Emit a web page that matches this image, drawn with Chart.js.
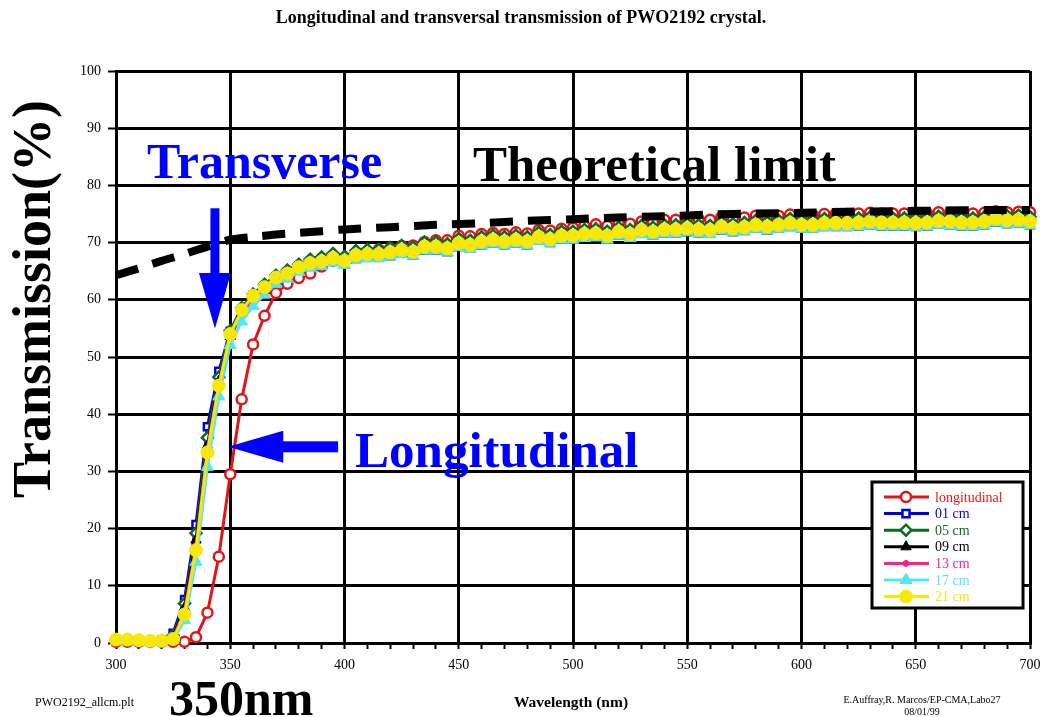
<!DOCTYPE html>
<html>
<head>
<meta charset="utf-8">
<title>PWO2192 transmission</title>
<script src="https://cdn.jsdelivr.net/npm/chart.js@4.4.0/dist/chart.umd.min.js"></script>
<style>
  html, body { margin: 0; padding: 0; background: #fff; }
  canvas { display: block; }
</style>
</head>
<body>
<canvas id="transmissionChart" width="1042" height="717"></canvas>
<script>
// wavelength grid of the spectrophotometer scans (nm)
const wavelengths = [
  300, 305, 310, 315, 320, 325, 330, 335, 340, 345,
  350, 355, 360, 365, 370, 375, 380, 385, 390, 395,
  400, 405, 410, 415, 420, 425, 430, 435, 440, 445,
  450, 455, 460, 465, 470, 475, 480, 485, 490, 495,
  500, 505, 510, 515, 520, 525, 530, 535, 540, 545,
  550, 555, 560, 565, 570, 575, 580, 585, 590, 595,
  600, 605, 610, 615, 620, 625, 630, 635, 640, 645,
  650, 655, 660, 665, 670, 675, 680, 685, 690, 695,
  700
];

// transmission (%) along the crystal axis
const longitudinal = [
  0.2, 0.2, 0.2, 0.2, 0.2, 0.2, 0.2, 1.0, 5.3, 15.1,
  29.5, 42.6, 52.2, 57.2, 61.2, 62.8, 63.8, 64.6, 65.8, 66.8,
  67.1, 67.9, 68.4, 68.8, 69.0, 69.4, 69.5, 70.1, 70.4, 70.4,
  71.2, 71.1, 71.5, 71.7, 71.5, 71.8, 71.6, 72.2, 72.1, 72.4,
  72.6, 72.9, 73.2, 72.9, 73.4, 73.3, 73.7, 73.6, 74.0, 74.0,
  74.2, 74.1, 74.0, 74.5, 74.3, 74.4, 74.7, 74.5, 74.7, 74.9,
  74.7, 74.8, 75.0, 75.0, 75.0, 75.1, 75.2, 75.1, 75.1, 75.1,
  75.0, 75.1, 75.3, 75.2, 75.1, 75.1, 75.2, 75.5, 75.3, 75.4,
  75.3
];

// transverse transmission (%) at different positions along the crystal
const cm01 = [
  0.6, 0.5, 0.4, 0.4, 0.5, 1.7, 7.6, 20.7, 37.8, 47.5,
  54.5, 58.3, 60.8, 62.4, 64.0, 64.9, 65.9, 66.7, 67.0, 67.7,
  67.2, 68.1, 68.4, 68.4, 68.8, 69.1, 68.9, 69.7, 69.8, 69.5,
  70.3, 70.1, 70.7, 70.9, 70.7, 71.0, 70.7, 71.4, 71.1, 71.7,
  71.7, 72.0, 72.1, 71.7, 72.4, 72.0, 72.7, 72.4, 72.8, 72.8,
  73.0, 72.8, 72.7, 73.3, 73.0, 73.2, 73.6, 73.3, 73.6, 73.9,
  73.6, 73.6, 73.9, 73.9, 73.9, 74.0, 74.2, 74.0, 74.0, 74.0,
  73.9, 74.0, 74.3, 74.2, 74.0, 74.0, 74.2, 74.6, 74.4, 74.5,
  74.2
];

const cm05 = [
  0.5, 0.5, 0.4, 0.3, 0.4, 1.3, 6.9, 19.2, 35.9, 46.5,
  54.6, 58.6, 61.0, 62.7, 64.3, 65.2, 66.2, 67.1, 67.5, 68.1,
  67.6, 68.6, 68.8, 68.8, 69.1, 69.5, 69.2, 70.1, 70.1, 69.8,
  70.7, 70.4, 71.0, 71.3, 71.0, 71.3, 71.0, 71.8, 71.4, 72.0,
  72.0, 72.3, 72.4, 72.0, 72.7, 72.3, 73.0, 72.7, 73.1, 73.1,
  73.3, 73.1, 73.0, 73.6, 73.3, 73.5, 73.9, 73.6, 73.9, 74.2,
  73.9, 73.9, 74.2, 74.2, 74.2, 74.3, 74.5, 74.3, 74.3, 74.3,
  74.2, 74.3, 74.6, 74.5, 74.3, 74.3, 74.5, 75.0, 74.7, 74.8,
  74.5
];

const cm09 = [
  0.4, 0.4, 0.3, 0.3, 0.3, 1.0, 6.2, 18.0, 34.5, 45.8,
  53.6, 57.6, 60.1, 61.6, 63.2, 63.9, 65.0, 65.7, 66.0, 66.6,
  66.1, 67.0, 67.2, 67.2, 67.5, 67.9, 67.6, 68.5, 68.5, 68.2,
  69.1, 68.8, 69.4, 69.7, 69.4, 69.7, 69.4, 70.2, 69.8, 70.4,
  70.4, 70.7, 70.8, 70.4, 71.1, 70.7, 71.4, 71.1, 71.5, 71.5,
  71.7, 71.5, 71.4, 72.0, 71.7, 71.9, 72.3, 72.0, 72.3, 72.6,
  72.3, 72.3, 72.6, 72.6, 72.6, 72.7, 72.9, 72.7, 72.7, 72.7,
  72.6, 72.7, 73.0, 72.9, 72.7, 72.7, 72.9, 73.4, 73.1, 73.2,
  72.9
];

const cm13 = [
  0.4, 0.4, 0.3, 0.3, 0.3, 0.9, 5.6, 17.0, 34.0, 45.3,
  53.6, 57.8, 60.3, 61.8, 63.4, 64.1, 65.2, 65.9, 66.2, 66.8,
  66.3, 67.3, 67.5, 67.5, 67.8, 68.2, 67.9, 68.8, 68.8, 68.5,
  69.4, 69.1, 69.7, 70.0, 69.7, 70.0, 69.7, 70.5, 70.1, 70.7,
  70.7, 71.0, 71.1, 70.7, 71.4, 71.0, 71.7, 71.4, 71.8, 71.8,
  72.0, 71.8, 71.7, 72.3, 72.0, 72.2, 72.6, 72.3, 72.6, 72.9,
  72.6, 72.6, 72.9, 72.9, 72.9, 73.0, 73.2, 73.0, 73.0, 73.0,
  72.9, 73.0, 73.3, 73.2, 73.0, 73.0, 73.2, 73.7, 73.4, 73.5,
  73.2
];

const cm17 = [
  0.3, 0.3, 0.2, 0.2, 0.2, 0.5, 4.0, 14.2, 30.8, 43.1,
  52.1, 56.2, 58.9, 60.9, 62.8, 63.7, 64.9, 65.6, 65.9, 66.5,
  66.1, 67.1, 67.3, 67.3, 67.6, 68.0, 67.7, 68.6, 68.6, 68.3,
  69.2, 68.9, 69.5, 69.8, 69.5, 69.8, 69.5, 70.3, 69.9, 70.5,
  70.5, 70.8, 70.9, 70.5, 71.2, 70.8, 71.5, 71.2, 71.6, 71.6,
  71.8, 71.6, 71.5, 72.1, 71.8, 72.0, 72.4, 72.1, 72.4, 72.7,
  72.4, 72.4, 72.7, 72.7, 72.7, 72.8, 73.0, 72.8, 72.8, 72.8,
  72.7, 72.8, 73.1, 73.0, 72.8, 72.8, 73.0, 73.5, 73.2, 73.3,
  73.0
];

const cm21 = [
  0.6, 0.6, 0.5, 0.4, 0.4, 0.7, 5.0, 16.2, 33.3, 45.0,
  54.0, 58.2, 60.7, 62.2, 63.9, 64.6, 65.7, 66.4, 66.7, 67.3,
  66.8, 67.8, 68.0, 68.0, 68.3, 68.7, 68.4, 69.3, 69.3, 69.0,
  69.9, 69.6, 70.2, 70.5, 70.2, 70.5, 70.2, 71.0, 70.6, 71.2,
  71.2, 71.5, 71.6, 71.2, 71.9, 71.5, 72.2, 71.9, 72.3, 72.3,
  72.5, 72.3, 72.2, 72.8, 72.5, 72.7, 73.1, 72.8, 73.1, 73.4,
  73.1, 73.1, 73.4, 73.4, 73.4, 73.5, 73.7, 73.5, 73.5, 73.5,
  73.4, 73.5, 73.8, 73.7, 73.5, 73.5, 73.7, 74.2, 73.9, 74.0,
  73.7
];

// theoretical transmission limit (Fresnel losses only)
const limitNm  = [300, 310, 320, 330, 340, 350, 360, 370, 380, 390, 400, 420, 440, 460, 480, 500, 520, 540, 560, 580, 600, 620, 640, 660, 680, 700];
const limitPct = [64.3, 65.5, 66.8, 68.0, 69.3, 70.5, 71.0, 71.4, 71.7, 72.0, 72.3, 72.7, 73.1, 73.4, 73.8, 74.1, 74.4, 74.6, 74.9, 75.1, 75.2, 75.4, 75.5, 75.6, 75.7, 75.7];

const xTicks = [300, 350, 400, 450, 500, 550, 600, 650, 700];

const serif = '"Liberation Serif", "DejaVu Serif", serif';

function toPoints(xs, ys) {
  return ys.map((y, i) => ({ x: xs[i], y: y }));
}

function series(label, values, color, pointStyle, radius, fill, order) {
  return {
    label: label,
    data: toPoints(wavelengths, values),
    borderColor: color,
    borderWidth: 3,
    pointStyle: pointStyle,
    pointRadius: radius,
    pointBorderWidth: fill ? 1 : 2.5,
    pointBorderColor: color,
    pointBackgroundColor: fill ? color : '#fff',
    tension: 0,
    clip: false,
    order: order
  };
}

const datasets = [
  series('longitudinal', longitudinal, '#e0161b', 'circle', 5, false, 7),
  series('01 cm', cm01, '#0000d8', 'rect', 5, false, 6),
  series('05 cm', cm05, '#0b6b23', 'rectRot', 5.5, false, 5),
  series('09 cm', cm09, '#000000', 'triangle', 6, true, 4),
  series('13 cm', cm13, '#ff1f8f', 'circle', 3, true, 3),
  series('17 cm', cm17, '#55e6f6', 'triangle', 7, true, 2),
  series('21 cm', cm21, '#f8e80a', 'circle', 6.5, true, 1),
  {
    label: 'Theoretical limit',
    data: toPoints(limitNm, limitPct),
    borderColor: '#000',
    borderWidth: 8,
    borderDash: [23, 15],
    borderCapStyle: 'butt',
    pointRadius: 0,
    tension: 0.3,
    clip: false,
    order: 0
  }
];

// blue arrows and big captions, placed in data units
const annotationPlugin = {
  id: 'annotations',
  afterDatasetsDraw(chart) {
    const ctx = chart.ctx;
    const x = chart.scales.x;
    const y = chart.scales.y;
    ctx.save();

    // down arrow onto the transverse edge
    const ax = x.getPixelForValue(343.3);
    const aTop = y.getPixelForValue(76.0);
    const aBase = y.getPixelForValue(64.7);
    const aTip = y.getPixelForValue(55.0);
    ctx.fillStyle = '#0000ff';
    ctx.fillRect(ax - 4.5, aTop, 9, aBase - aTop + 1);
    ctx.beginPath();
    ctx.moveTo(ax - 16, aBase);
    ctx.lineTo(ax + 16, aBase);
    ctx.lineTo(ax, aTip);
    ctx.closePath();
    ctx.fill();

    // left arrow onto the longitudinal edge
    const ly = y.getPixelForValue(34.3);
    const lTip = x.getPixelForValue(349);
    const lBase = x.getPixelForValue(373.2);
    const lEnd = x.getPixelForValue(397.2);
    ctx.fillRect(lBase - 1, ly - 5.5, lEnd - lBase + 1, 11);
    ctx.beginPath();
    ctx.moveTo(lBase, ly - 16);
    ctx.lineTo(lBase, ly + 16);
    ctx.lineTo(lTip, ly);
    ctx.closePath();
    ctx.fill();

    ctx.textAlign = 'left';
    ctx.textBaseline = 'alphabetic';
    ctx.font = 'bold 50px ' + serif;
    ctx.fillStyle = '#0000ff';
    ctx.fillText('Transverse', x.getPixelForValue(313.6), y.getPixelForValue(81.3));
    ctx.font = 'bold 51px ' + serif;
    ctx.fillText('Longitudinal', x.getPixelForValue(404.6), y.getPixelForValue(30.8));
    ctx.fillStyle = '#000';
    ctx.fillText('Theoretical limit', x.getPixelForValue(456.2), y.getPixelForValue(80.8));
    ctx.restore();
  }
};

// titles, footer texts and the boxed legend
const decorPlugin = {
  id: 'decor',
  afterDraw(chart) {
    const ctx = chart.ctx;
    ctx.save();
    ctx.fillStyle = '#000';
    ctx.textAlign = 'center';
    ctx.textBaseline = 'middle';
    ctx.font = 'bold 18px ' + serif;
    ctx.fillText('Longitudinal and transversal transmission of PWO2192 crystal.', 521, 18);

    ctx.font = 'bold 15.5px ' + serif;
    ctx.fillText('Wavelength (nm)', 571, 703);

    ctx.font = '12px ' + serif;
    ctx.textAlign = 'left';
    ctx.fillText('PWO2192_allcm.plt', 35, 703);
    ctx.font = '10px ' + serif;
    ctx.textAlign = 'center';
    ctx.fillText('E.Auffray,R. Marcos/EP-CMA,Labo27', 922, 700);
    ctx.fillText('08/01/99', 922, 712);

    ctx.font = 'bold 50px ' + serif;
    ctx.textAlign = 'left';
    ctx.textBaseline = 'alphabetic';
    ctx.fillText('350nm', 169, 715);

    ctx.save();
    ctx.translate(50, 299);
    ctx.rotate(-Math.PI / 2);
    ctx.textAlign = 'center';
    ctx.font = 'bold 54px ' + serif;
    ctx.fillText('Transmission(%)', 0, 0);
    ctx.restore();

    // legend box
    const bx = 872, by = 482, bw = 151, bh = 126;
    ctx.fillStyle = '#fff';
    ctx.fillRect(bx, by, bw, bh);
    ctx.lineWidth = 3;
    ctx.strokeStyle = '#000';
    ctx.strokeRect(bx, by, bw, bh);

    ctx.font = '14px ' + serif;
    ctx.textBaseline = 'middle';
    ctx.textAlign = 'left';
    const items = chart.data.datasets.filter(d => d.pointRadius > 0);
    items.forEach((ds, i) => {
      const ry = by + 15 + i * 16.6;
      ctx.strokeStyle = ds.borderColor;
      ctx.lineWidth = 3;
      ctx.beginPath();
      ctx.moveTo(884, ry);
      ctx.lineTo(929, ry);
      ctx.stroke();
      ctx.fillStyle = ds.pointBackgroundColor;
      ctx.strokeStyle = ds.pointBorderColor;
      ctx.lineWidth = ds.pointBorderWidth;
      Chart.helpers.drawPoint(ctx, {
        pointStyle: ds.pointStyle,
        radius: ds.pointRadius,
        borderWidth: ds.pointBorderWidth,
        rotation: 0
      }, 906, ry);
      ctx.fillStyle = ds.borderColor;
      ctx.fillText(ds.label, 935, ry + 1);
    });
    ctx.restore();
  }
};

new Chart(document.getElementById('transmissionChart'), {
  type: 'line',
  data: { datasets: datasets },
  options: {
    responsive: false,
    animation: false,
    devicePixelRatio: 1,
    layout: { padding: { left: 0, right: 12, top: 71, bottom: 0 } },
    plugins: {
      legend: { display: false },
      tooltip: { enabled: false }
    },
    scales: {
      x: {
        type: 'linear',
        min: 300,
        max: 700,
        border: { display: true, color: '#000', width: 3 },
        grid: {
          color: c => xTicks.includes(c.tick.value) ? '#000' : 'rgba(0,0,0,0)',
          lineWidth: 3,
          tickColor: '#000',
          tickWidth: 2,
          tickLength: 6
        },
        ticks: {
          stepSize: 10,
          autoSkip: false,
          maxRotation: 0,
          padding: 8,
          color: '#000',
          font: { family: serif, size: 14 },
          callback: v => xTicks.includes(v) ? String(v) : ''
        },
        afterFit: s => { s.height = 74; s.paddingLeft = 0; s.paddingRight = 0; }
      },
      y: {
        min: 0,
        max: 100,
        border: { display: true, color: '#000', width: 3 },
        grid: { color: '#000', lineWidth: 3, tickLength: 8, tickWidth: 2 },
        ticks: {
          stepSize: 10,
          padding: 7,
          color: '#000',
          font: { family: serif, size: 14 }
        },
        afterFit: s => { s.width = 116; s.paddingTop = 0; s.paddingBottom = 0; }
      }
    }
  },
  plugins: [annotationPlugin, decorPlugin]
});
</script>
</body>
</html>
